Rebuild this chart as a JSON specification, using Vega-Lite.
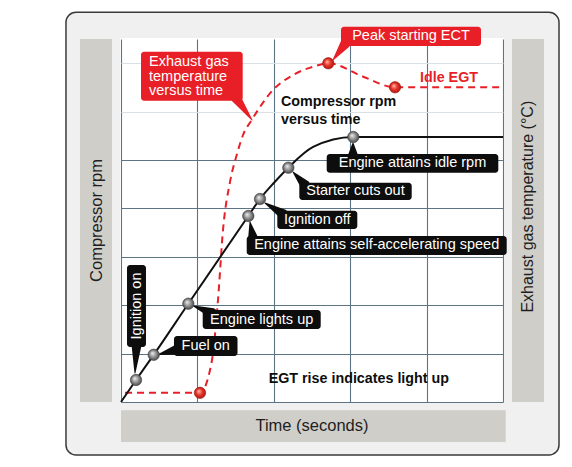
{
  "$schema": "https://vega.github.io/schema/vega-lite/v6.json",
  "width": 382,
  "height": 363,
  "padding": {"left": 121, "top": 39, "right": 69, "bottom": 65},
  "autosize": {"type": "none"},
  "background": "white",
  "config": {
    "view": {"stroke": null},
    "font": "Liberation Sans",
    "text": {"font": "Liberation Sans"}
  },
  "datasets": {
    "rpm": [
      {"t": 0, "v": 0, "event": null},
      {"t": 0.393, "v": 0.909, "event": "Ignition on"},
      {"t": 0.856, "v": 1.95, "event": "Fuel on"},
      {"t": 1.762, "v": 4.062, "event": "Engine lights up"},
      {"t": 3.332, "v": 7.686, "event": "Engine attains self-accelerating speed"},
      {"t": 3.639, "v": 8.388, "event": "Ignition off"},
      {"t": 4.0, "v": 9.05, "event": null},
      {"t": 4.38, "v": 9.682, "event": "Starter cuts out"},
      {"t": 5.03, "v": 10.54, "event": null},
      {"t": 6.081, "v": 10.95, "event": "Engine attains idle rpm"},
      {"t": 10, "v": 10.95, "event": null}
    ],
    "egt": [
      {"t": 0.105, "v": 0.38, "event": null},
      {"t": 2.068, "v": 0.38, "event": "Light up"},
      {"t": 2.374, "v": 1.665, "event": null},
      {"t": 2.539, "v": 4.215, "event": null},
      {"t": 2.67, "v": 7.107, "event": null},
      {"t": 2.853, "v": 9.091, "event": null},
      {"t": 3.029, "v": 10.207, "event": null},
      {"t": 3.194, "v": 11.033, "event": null},
      {"t": 3.421, "v": 11.653, "event": null},
      {"t": 3.979, "v": 12.893, "event": null},
      {"t": 4.503, "v": 13.512, "event": null},
      {"t": 5.026, "v": 13.855, "event": null},
      {"t": 5.427, "v": 13.996, "event": "Peak starting ECT"},
      {"t": 6.343, "v": 13.442, "event": null},
      {"t": 7.173, "v": 13.004, "event": "Idle EGT"},
      {"t": 10, "v": 13.004, "event": null}
    ],
    "callouts": [
      {"label": "Ignition on", "series": "rpm", "x1": 0.157, "x2": 0.654, "y1": 2.273, "y2": 5.661, "tx": 0.406, "ty": 3.967},
      {"label": "Fuel on", "series": "rpm", "x1": 1.387, "x2": 3.05, "y1": 1.901, "y2": 2.727, "tx": 2.218, "ty": 2.314},
      {"label": "Engine lights up", "series": "rpm", "x1": 2.139, "x2": 5.228, "y1": 3.017, "y2": 3.802, "tx": 3.683, "ty": 3.409},
      {"label": "Engine attains self-accelerating speed", "series": "rpm", "x1": 3.291, "x2": 10.097, "y1": 6.074, "y2": 6.86, "tx": 6.694, "ty": 6.467},
      {"label": "Ignition off", "series": "rpm", "x1": 4.092, "x2": 6.186, "y1": 7.149, "y2": 7.905, "tx": 5.139, "ty": 7.527},
      {"label": "Starter cuts out", "series": "rpm", "x1": 4.668, "x2": 7.61, "y1": 8.347, "y2": 9.062, "tx": 6.139, "ty": 8.705},
      {"label": "Engine attains idle rpm", "series": "rpm", "x1": 5.385, "x2": 9.877, "y1": 9.475, "y2": 10.248, "tx": 7.631, "ty": 9.862},
      {"label": "Exhaust gas\ntemperature\nversus time", "series": "egt", "x1": 0.524, "x2": 3.186, "y1": 12.45, "y2": 14.475, "tx": 0.733, "ty": 14.037},
      {"label": "Peak starting ECT", "series": "egt", "x1": 5.759, "x2": 9.424, "y1": 14.711, "y2": 15.508, "tx": 7.592, "ty": 15.11}
    ],
    "pointers": [
      {"id": "ign_on", "series": "rpm", "end": "base", "t": 0.406, "v": 2.35},
      {"id": "ign_on", "series": "rpm", "end": "tip", "t": 0.366, "v": 1.198},
      {"id": "fuel_on", "series": "rpm", "end": "base", "t": 1.45, "v": 2.15},
      {"id": "fuel_on", "series": "rpm", "end": "tip", "t": 0.982, "v": 1.963},
      {"id": "lights_up", "series": "rpm", "end": "base", "t": 2.382, "v": 3.678},
      {"id": "lights_up", "series": "rpm", "end": "tip", "t": 1.898, "v": 3.967},
      {"id": "self_acc", "series": "rpm", "end": "base", "t": 3.455, "v": 6.777},
      {"id": "self_acc", "series": "rpm", "end": "tip", "t": 3.377, "v": 7.438},
      {"id": "ign_off", "series": "rpm", "end": "base", "t": 4.241, "v": 7.769},
      {"id": "ign_off", "series": "rpm", "end": "tip", "t": 3.77, "v": 8.223},
      {"id": "starter", "series": "rpm", "end": "base", "t": 4.817, "v": 8.967},
      {"id": "starter", "series": "rpm", "end": "tip", "t": 4.503, "v": 9.504},
      {"id": "idle_rpm", "series": "rpm", "end": "base", "t": 6.073, "v": 10.207},
      {"id": "idle_rpm", "series": "rpm", "end": "tip", "t": 6.073, "v": 10.702},
      {"id": "egt_box", "series": "egt", "end": "base", "t": 3.01, "v": 12.562},
      {"id": "egt_box", "series": "egt", "end": "tip", "t": 3.429, "v": 11.653},
      {"id": "peak", "series": "egt", "end": "base", "t": 5.864, "v": 14.793},
      {"id": "peak", "series": "egt", "end": "tip", "t": 5.55, "v": 14.132}
    ],
    "notes": [
      {"label": "Compressor rpm\nversus time", "series": "rpm", "t": 4.188, "v": 12.397},
      {"label": "Idle EGT", "series": "egt", "t": 7.827, "v": 13.388},
      {"label": "EGT rise indicates light up", "series": "rpm", "t": 3.866, "v": 0.95}
    ]
  },
  "layer": [
    {
      "data": {"values": [{}]},
      "mark": {"type": "rect", "fill": "#eff0ef", "cornerRadius": 10},
      "encoding": {
        "x": {"datum": -1.44, "type": "quantitative"}, "x2": {"datum": 11.466},
        "y": {"datum": 15.04, "type": "quantitative"}, "y2": {"datum": 16.103}
      }
    },
    {
      "data": {"values": [{}]},
      "mark": {"type": "rect", "fill": "#eff0ef", "cornerRadius": 10},
      "encoding": {
        "x": {"datum": -1.44, "type": "quantitative"}, "x2": {"datum": 11.466},
        "y": {"datum": -2.19, "type": "quantitative"}, "y2": {"datum": -0.04}
      }
    },
    {
      "data": {"values": [{}]},
      "mark": {"type": "rect", "fill": "#eff0ef", "cornerRadius": 10},
      "encoding": {
        "x": {"datum": -1.44, "type": "quantitative"}, "x2": {"datum": -0.026},
        "y": {"datum": -2.19, "type": "quantitative"}, "y2": {"datum": 16.103}
      }
    },
    {
      "data": {"values": [{}]},
      "mark": {"type": "rect", "fill": "#eff0ef", "cornerRadius": 10},
      "encoding": {
        "x": {"datum": 10.026, "type": "quantitative"}, "x2": {"datum": 11.466},
        "y": {"datum": -2.19, "type": "quantitative"}, "y2": {"datum": 16.103}
      }
    },
    {
      "data": {"values": [{}]},
      "mark": {"type": "rect", "fillOpacity": 0, "stroke": "#3a3a3a", "strokeWidth": 1.5, "cornerRadius": 10},
      "encoding": {
        "x": {"datum": -1.44, "type": "quantitative"}, "x2": {"datum": 11.466},
        "y": {"datum": -2.19, "type": "quantitative"}, "y2": {"datum": 16.103}
      }
    },
    {
      "data": {"values": [{}]},
      "mark": {"type": "rect", "fill": "#d0cec9"},
      "encoding": {
        "x": {"datum": -1.073, "type": "quantitative"}, "x2": {"datum": -0.236},
        "y": {"datum": 0, "type": "quantitative"}, "y2": {"datum": 15}
      }
    },
    {
      "data": {"values": [{}]},
      "mark": {"type": "rect", "fill": "#d0cec9"},
      "encoding": {
        "x": {"datum": 10.236, "type": "quantitative"}, "x2": {"datum": 11.073},
        "y": {"datum": 0, "type": "quantitative"}, "y2": {"datum": 15}
      }
    },
    {
      "data": {"values": [{}]},
      "mark": {"type": "rect", "fill": "#d0cec9"},
      "encoding": {
        "x": {"datum": 0, "type": "quantitative"}, "x2": {"datum": 10.071},
        "y": {"datum": -0.343, "type": "quantitative"}, "y2": {"datum": -1.653}
      }
    },
    {
      "data": {"values": [{"title": "Compressor rpm"}]},
      "mark": {"type": "text", "angle": 270, "align": "center", "baseline": "alphabetic", "fontSize": 16.5, "color": "#1e1e1e"},
      "encoding": {
        "x": {"datum": -0.51, "type": "quantitative"},
        "y": {"datum": 7.5, "type": "quantitative"},
        "text": {"field": "title"}
      }
    },
    {
      "data": {"values": [{"title": "Exhaust gas temperature (°C)"}]},
      "mark": {"type": "text", "angle": 270, "align": "center", "baseline": "alphabetic", "fontSize": 16, "color": "#1e1e1e"},
      "encoding": {
        "x": {"datum": 10.793, "type": "quantitative"},
        "y": {"datum": 8.07, "type": "quantitative"},
        "text": {"field": "title"}
      }
    },
    {
      "data": {"values": [{"title": "Time (seconds)"}]},
      "mark": {"type": "text", "align": "center", "baseline": "alphabetic", "fontSize": 16.5, "color": "#1e1e1e"},
      "encoding": {
        "x": {"datum": 5, "type": "quantitative"},
        "y": {"datum": -1.178, "type": "quantitative"},
        "text": {"field": "title"}
      }
    },
    {
      "data": {"name": "egt"},
      "mark": {"type": "line", "interpolate": "monotone", "color": "#e81f27", "strokeWidth": 2, "strokeDash": [7, 5]},
      "encoding": {
        "x": {"field": "t", "type": "quantitative"},
        "y": {"field": "v", "type": "quantitative"}
      }
    },
    {
      "data": {"name": "rpm"},
      "mark": {"type": "line", "interpolate": "monotone", "color": "#111111", "strokeWidth": 2},
      "encoding": {
        "x": {
          "field": "t", "type": "quantitative",
          "scale": {"domain": [0, 10], "nice": false, "zero": false},
          "axis": {
            "title": null, "labels": false, "ticks": false, "domain": false,
            "values": [0, 1, 2, 3, 4, 5, 6, 7, 8, 9, 10],
            "grid": true, "gridWidth": 1.1, "gridOpacity": 1,
            "gridColor": {"condition": {"test": "datum.value % 2 === 0", "value": "#5d7484"}, "value": "#b7c6cf"}
          }
        },
        "y": {
          "field": "v", "type": "quantitative",
          "scale": {"domain": [0, 15], "nice": false, "zero": false},
          "axis": {
            "title": null, "labels": false, "ticks": false, "domain": false,
            "values": [0, 1, 2, 3, 4, 5, 6, 7, 8, 9, 10, 11, 12, 13, 14, 15],
            "grid": true, "gridWidth": 1.1, "gridOpacity": 1,
            "gridColor": {"condition": {"test": "indexof([0, 2, 4, 6, 8, 10, 13, 15], datum.value) >= 0", "value": "#5d7484"}, "value": "#d9e1e6"}
          }
        }
      }
    },
    {
      "data": {"name": "pointers"},
      "mark": {"type": "trail"},
      "encoding": {
        "x": {"field": "t", "type": "quantitative"},
        "y": {"field": "v", "type": "quantitative"},
        "detail": {"field": "id"},
        "order": {"field": "end", "type": "ordinal"},
        "size": {"field": "end", "type": "ordinal", "scale": {"domain": ["base", "tip"], "range": [10, 0]}, "legend": null},
        "color": {"field": "series", "type": "nominal", "scale": {"domain": ["rpm", "egt"], "range": ["#0d0d0d", "#e81f27"]}, "legend": null}
      }
    },
    {
      "data": {"name": "callouts"},
      "mark": {"type": "rect", "cornerRadius": 3},
      "encoding": {
        "x": {"field": "x1", "type": "quantitative"}, "x2": {"field": "x2"},
        "y": {"field": "y1", "type": "quantitative"}, "y2": {"field": "y2"},
        "color": {"field": "series", "type": "nominal", "legend": null}
      }
    },
    {
      "data": {"name": "callouts"},
      "transform": [{"filter": "datum.series === 'rpm' && datum.label !== 'Ignition on' || datum.label === 'Peak starting ECT'"}],
      "mark": {"type": "text", "align": "center", "baseline": "middle", "fontSize": 14.5, "color": "white"},
      "encoding": {
        "x": {"field": "tx", "type": "quantitative"},
        "y": {"field": "ty", "type": "quantitative"},
        "text": {"field": "label"}
      }
    },
    {
      "data": {"name": "callouts"},
      "transform": [{"filter": "datum.label === 'Ignition on'"}],
      "mark": {"type": "text", "angle": 270, "align": "center", "baseline": "middle", "fontSize": 14.5, "color": "white"},
      "encoding": {
        "x": {"field": "tx", "type": "quantitative"},
        "y": {"field": "ty", "type": "quantitative"},
        "text": {"field": "label"}
      }
    },
    {
      "data": {"name": "callouts"},
      "transform": [{"filter": "indexof(datum.label, 'Exhaust') === 0"}],
      "mark": {"type": "text", "align": "left", "baseline": "middle", "fontSize": 14.5, "lineBreak": "\n", "lineHeight": 14.5, "color": "white"},
      "encoding": {
        "x": {"field": "tx", "type": "quantitative"},
        "y": {"field": "ty", "type": "quantitative"},
        "text": {"field": "label"}
      }
    },
    {
      "data": {"name": "notes"},
      "mark": {"type": "text", "align": "left", "baseline": "middle", "fontSize": 14.3, "fontWeight": "bold", "lineBreak": "\n", "lineHeight": 18.3},
      "encoding": {
        "x": {"field": "t", "type": "quantitative"},
        "y": {"field": "v", "type": "quantitative"},
        "text": {"field": "label"},
        "color": {"field": "series", "type": "nominal", "legend": null}
      }
    },
    {
      "data": {"name": "rpm"},
      "transform": [{"filter": "datum.event != null"}],
      "mark": {
        "type": "circle", "size": 130, "opacity": 1, "stroke": "#3a3a3a", "strokeWidth": 0.6,
        "fill": {"gradient": "radial", "x1": 0.38, "y1": 0.35, "r1": 0, "x2": 0.5, "y2": 0.5, "r2": 0.55,
          "stops": [{"offset": 0, "color": "#f2f2f2"}, {"offset": 0.55, "color": "#8c8c8c"}, {"offset": 1, "color": "#3f3f3f"}]}
      },
      "encoding": {
        "x": {"field": "t", "type": "quantitative"},
        "y": {"field": "v", "type": "quantitative"}
      }
    },
    {
      "data": {"name": "egt"},
      "transform": [{"filter": "datum.event != null"}],
      "mark": {
        "type": "circle", "size": 130, "opacity": 1, "stroke": "#9a1a14", "strokeWidth": 0.6,
        "fill": {"gradient": "radial", "x1": 0.38, "y1": 0.35, "r1": 0, "x2": 0.5, "y2": 0.5, "r2": 0.55,
          "stops": [{"offset": 0, "color": "#ffc2b0"}, {"offset": 0.5, "color": "#e8352a"}, {"offset": 1, "color": "#a3130e"}]}
      },
      "encoding": {
        "x": {"field": "t", "type": "quantitative"},
        "y": {"field": "v", "type": "quantitative"}
      }
    }
  ]
}
